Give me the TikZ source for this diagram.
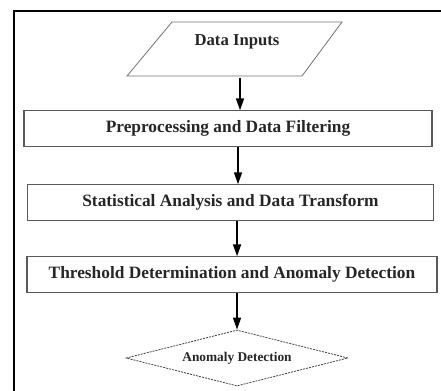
\documentclass[tikz,border=0pt]{standalone}
\usepackage{fontspec}
\setmainfont{Liberation Serif}
\usetikzlibrary{arrows.meta,shapes.geometric}

\begin{document}
\begin{tikzpicture}[x=0.75pt,y=0.75pt,yscale=-1,
  stepbox/.style={draw=black!65, line width=0.8pt, inner sep=0pt, text=black!85,
    font=\fontsize{13}{15}\selectfont\bfseries, minimum height=26.5pt},
  flow/.style={-{Triangle[width=6pt,length=9pt]}, line width=1.2pt}]
\useasboundingbox (0,0) rectangle (441,391);

%Outer frame
\draw [line width=1.6pt] (14,391) -- (14,11) -- (441,11);

%Shape: Parallelogram
\draw [draw=black!55, line width=0.6pt] (172,22) -- (342,22) -- (302,76) -- (127,76) -- cycle;
% Text Node
\node (inputs) at (237,42) [inner sep=0pt, text=black!85, font=\fontsize{12.5}{14}\selectfont\bfseries] {Data Inputs};
\coordinate (inputsout) at (240,78);

% Process boxes
\node (prep) at (228,128.5) [stepbox, minimum width=306pt] {Preprocessing and Data Filtering};
\node (stat) at (230.5,202.5) [stepbox, minimum width=305pt] {Statistical Analysis and Data Transform};
\node (thresh) at (232,274.5) [stepbox, minimum width=307.5pt] {Threshold Determination and Anomaly Detection};

%Shape: Diamond
\node (detect) at (237,358) [diamond, draw=black!75, line width=0.6pt, dash pattern=on 1.5pt off 0.8pt,
  aspect=4, inner sep=0pt, minimum width=166.5pt, minimum height=42pt, text=black!85,
  font=\fontsize{10}{12}\selectfont\bfseries] {Anomaly Detection};

% Arrows
\draw [flow] (inputsout) -- (inputsout |- prep.north);
\draw [flow] ([xshift=7.5pt]prep.south) -- ([xshift=7.5pt]prep.south |- stat.north);
\draw [flow] ([xshift=4.9pt]stat.south) -- ([xshift=4.9pt]stat.south |- thresh.north);
\draw [flow] (thresh.south -| detect.north) -- (detect.north);

\end{tikzpicture}
\end{document}
